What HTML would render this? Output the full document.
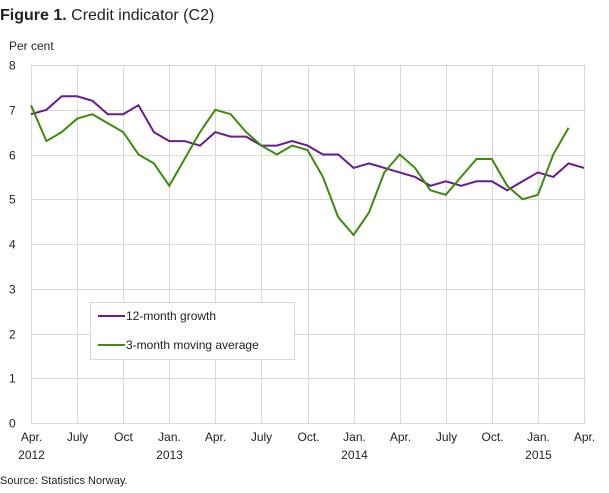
<!DOCTYPE html>
<html><head><meta charset="utf-8"><style>
body{margin:0;background:#fff;width:609px;height:488px;overflow:hidden}
text{font-family:"Liberation Sans",sans-serif;fill:#222}
</style></head><body>
<svg width="609" height="488" xmlns="http://www.w3.org/2000/svg">
<text x="0" y="20" font-size="16"><tspan font-weight="bold">Figure 1.</tspan> Credit indicator (C2)</text>
<text x="9" y="50" font-size="12">Per cent</text>
<g id="grid" stroke="#d9d9d9" stroke-width="1"></g>
<g id="lbl" font-size="12"></g>
<polyline id="p" fill="none" stroke="#6a1b8f" stroke-width="2"/>
<polyline id="g" fill="none" stroke="#3f8a0c" stroke-width="2"/>
<rect x="90.5" y="302.5" width="204" height="57" fill="#fff" stroke="#d9d9d9"/>
<line x1="98" y1="316" x2="125" y2="316" stroke="#6a1b8f" stroke-width="2"/>
<text x="126" y="320" font-size="12">12-month growth</text>
<line x1="98" y1="345" x2="125" y2="345" stroke="#3f8a0c" stroke-width="2"/>
<text x="126" y="349" font-size="12">3-month moving average</text>
<text x="0" y="484" font-size="11">Source: Statistics Norway.</text>
</svg>
<script>
var L=31,R=584,T=65,B=423,st=(R-L)/36,u=(B-T)/8,ns="http://www.w3.org/2000/svg";
var g=document.getElementById('grid'),lb=document.getElementById('lbl');
function el(t,a,p){var e=document.createElementNS(ns,t);for(var k in a)e.setAttribute(k,a[k]);p.appendChild(e);return e}
for(var i=0;i<=8;i++){var y=Math.round(B-i*u)+.5;el('line',{x1:L,x2:R+2,y1:y,y2:y},g);var t=el('text',{x:9,y:y+4,'font-size':12},lb);t.textContent=i;}
var ml=['Apr.','July','Oct','Jan.','Apr.','July','Oct.','Jan.','Apr.','July','Oct.','Jan.','Apr.'],yl={0:'2012',3:'2013',7:'2014',11:'2015'};
for(var i=0;i<=12;i++){var x=Math.round(L+i*3*st)+.5;el('line',{x1:x,x2:x,y1:T,y2:B},g);var t=el('text',{x:x,y:441,'text-anchor':'middle','font-size':12},lb);t.textContent=ml[i];if(yl[i]){t=el('text',{x:x,y:459,'text-anchor':'middle','font-size':12},lb);t.textContent=yl[i];}}
var P=[6.9,7.0,7.3,7.3,7.2,6.9,6.9,7.1,6.5,6.3,6.3,6.2,6.5,6.4,6.4,6.2,6.2,6.3,6.2,6.0,6.0,5.7,5.8,5.7,5.6,5.5,5.3,5.4,5.3,5.4,5.4,5.2,5.4,5.6,5.5,5.8,5.7];
var G=[7.1,6.3,6.5,6.8,6.9,6.7,6.5,6.0,5.8,5.3,5.9,6.5,7.0,6.9,6.5,6.2,6.0,6.2,6.1,5.5,4.6,4.2,4.7,5.6,6.0,5.7,5.2,5.1,5.5,5.9,5.9,5.3,5.0,5.1,6.0,6.6];
function pts(a){return a.map(function(v,i){return (L+i*st).toFixed(1)+','+(B-v*u).toFixed(1)}).join(' ')}
document.getElementById('p').setAttribute('points',pts(P));
document.getElementById('g').setAttribute('points',pts(G));
</script>
</body></html>
